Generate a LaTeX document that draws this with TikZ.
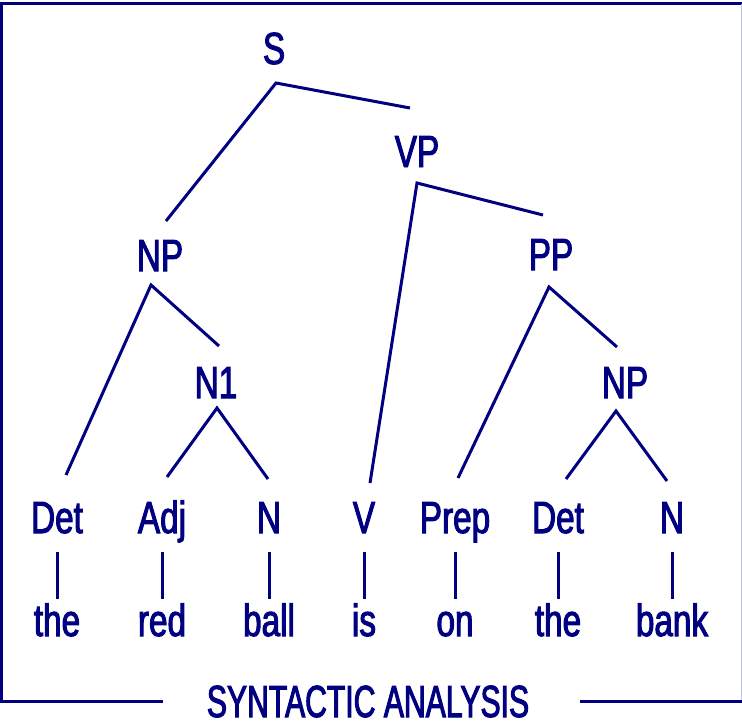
\documentclass[tikz,border=0pt]{standalone}
\usepackage{fontspec}
\usetikzlibrary{calc}
\newfontfamily\treefont[FakeStretch=0.74,FakeBold=2.2]{Liberation Sans}
\newfontfamily\titlefont[FakeStretch=0.67,FakeBold=2.2]{Liberation Sans}
\definecolor{navy}{HTML}{000080}
\begin{document}
\begin{tikzpicture}[x=1pt,y=-1pt,
  lbl/.style={anchor=base,inner sep=0pt,text=navy,font=\treefont\fontsize{45}{50}\selectfont},
  ttl/.style={anchor=base,inner sep=0pt,text=navy,font=\titlefont\fontsize{45}{50}\selectfont},
  edge/.style={draw=navy,line width=3pt,line cap=butt,line join=miter},
  frame/.style={draw=navy,line width=3pt}]
\useasboundingbox (0,0) rectangle (742,723);
% frame
\coordinate (fTL) at (0,3);
\coordinate (fTR) at (742,3);
\coordinate (fL) at (1.5,3);
\coordinate (fBL) at (1.5,701.5);
\coordinate (fB0) at (0,701.5);
\coordinate (fB1) at (163,701.5);
\coordinate (fB2) at (580,701.5);
\coordinate (fB3) at (742,701.5);
\coordinate (fR0) at (741.5,4);
\coordinate (fR1) at (741.5,700);
\draw[frame] (fTL) -- (fTR);
\draw[frame] (fL) -- (fBL);
\draw[frame] (fB0) -- (fB1);
\draw[frame] (fB2) -- (fB3);
\draw[draw=navy!25,line width=1pt] (fR0) -- (fR1);
% nodes
\node[lbl] (S) at (274,64) {S};
\node[lbl] (VP) at (417,167) {VP};
\node[lbl] (NP) at (160,271) {NP};
\node[lbl] (PP) at (551,270) {PP};
\node[lbl] (N1) at (216,398) {N1};
\node[lbl] (NPb) at (625,398) {NP};
\node[lbl] (Det) at (57,533) {Det};
\node[lbl] (Adj) at (162,533) {Adj};
\node[lbl] (Na) at (269,533) {N};
\node[lbl] (V) at (364,533) {V};
\node[lbl] (Prep) at (455,533) {Prep};
\node[lbl] (Detb) at (558,533) {Det};
\node[lbl] (Nb) at (672,533) {N};
\node[lbl] (w1) at (57,636) {the};
\node[lbl] (w2) at (162,636) {red};
\node[lbl] (w3) at (269,636) {ball};
\node[lbl] (w4) at (364,636) {is};
\node[lbl] (w5) at (455,636) {on};
\node[lbl] (w6) at (558,636) {the};
\node[lbl] (w7) at (672,636) {bank};
\node[ttl] (title) at (368,717) {SYNTACTIC ANALYSIS};
% branch points
\coordinate (Sa) at (276,83);   \coordinate (SL) at (166,221);  \coordinate (SR) at (410,108);
\coordinate (VPa) at (417,183); \coordinate (VPL) at (370,483); \coordinate (VPR) at (543,215);
\coordinate (NPa) at (151,285); \coordinate (NPL) at (66,475);  \coordinate (NPR) at (219,346);
\coordinate (N1a) at (217,408); \coordinate (N1L) at (167,477); \coordinate (N1R) at (268,479);
\coordinate (PPa) at (549,287); \coordinate (PPL) at (458,478); \coordinate (PPR) at (617,347);
\coordinate (NPba) at (616,411);\coordinate (NPbL) at (566,479);\coordinate (NPbR) at (667,481);
\draw[edge] (SL) -- (Sa) -- (SR);
\draw[edge] (VPL) -- (VPa) -- (VPR);
\draw[edge] (NPL) -- (NPa) -- (NPR);
\draw[edge] (N1L) -- (N1a) -- (N1R);
\draw[edge] (PPL) -- (PPa) -- (PPR);
\draw[edge] (NPbL) -- (NPba) -- (NPbR);
% bars
\foreach \n/\w in {Det/w1,Adj/w2,Na/w3,V/w4,Prep/w5,Detb/w6,Nb/w7}{
  \draw[edge] ($(\n.base)+(0,19)$) -- ($(\n.base)+(0,66)$);
}
\end{tikzpicture}
\end{document}
